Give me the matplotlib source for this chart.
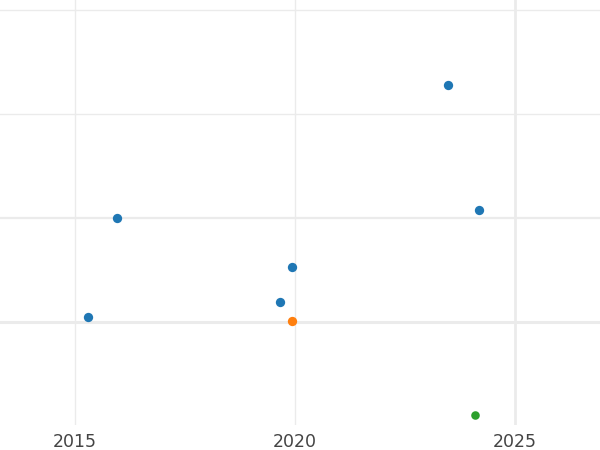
import matplotlib
matplotlib.use("Agg")
import matplotlib.pyplot as plt

blue_x = [2023.48, 2024.18, 2015.95, 2019.93, 2019.66, 2015.30]
blue_y = [3.28, 2.08, 2.00, 1.53, 1.19, 1.05]
orange_x = [2019.93]
orange_y = [1.01]
green_x = [2024.09]
green_y = [0.105]
xticks = [2015, 2020, 2025]

fig = plt.figure(figsize=(6, 4.5), dpi=100)
ax = fig.add_axes([0, 1 - 425/450, 1, 425/450])
ax.set_xlim(2013.30, 2026.93)
ax.set_ylim(0.01, 4.096)

grid = "#ebebeb"
for yv, lw in [(1, 2.2), (2, 1.6), (3, 1.0), (4, 1.0)]:
    ax.axhline(yv, color=grid, lw=lw, zorder=0)
for xv, lw in [(2015, 1.0), (2020, 1.0), (2025, 2.0)]:
    ax.axvline(xv, color=grid, lw=lw, zorder=0)

ax.scatter(blue_x, blue_y, s=45, color="#1f77b4", zorder=3, linewidths=0)
ax.scatter(orange_x, orange_y, s=45, color="#ff7f0e", zorder=3, linewidths=0)
ax.scatter(green_x, green_y, s=38, color="#2ca02c", zorder=3, linewidths=0)

ax.set_xticks(xticks)
ax.set_xticklabels([str(t) for t in xticks])
ax.set_yticks([])
ax.tick_params(axis="x", length=0, pad=6, labelsize=12.5, labelcolor="#444444")
for s in ax.spines.values():
    s.set_visible(False)

fig.savefig("out.png", dpi=100)
